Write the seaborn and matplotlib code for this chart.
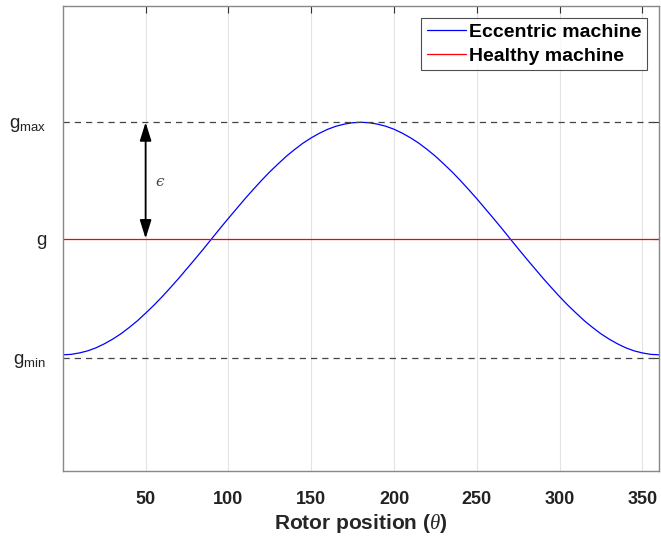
import numpy as np
import pandas as pd
import matplotlib
matplotlib.use('Agg')
import matplotlib.pyplot as plt
import seaborn as sns

# rotor position (deg) and air gap of the eccentric machine
theta = [0, 5, 10, 15, 20, 25, 30, 35, 40, 45, 50, 55, 60, 65, 70, 75, 80, 85, 90,
         95, 100, 105, 110, 115, 120, 125, 130, 135, 140, 145, 150, 155, 160, 165, 170, 175, 180,
         185, 190, 195, 200, 205, 210, 215, 220, 225, 230, 235, 240, 245, 250, 255, 260, 265, 270,
         275, 280, 285, 290, 295, 300, 305, 310, 315, 320, 325, 330, 335, 340, 345, 350, 355, 360]
gap_ecc = [0.500, 0.502, 0.508, 0.517, 0.530, 0.547, 0.567, 0.590, 0.617, 0.646, 0.679, 0.713,
           0.750, 0.789, 0.829, 0.871, 0.913, 0.956, 1.000, 1.044, 1.087, 1.129, 1.171, 1.211,
           1.250, 1.287, 1.321, 1.354, 1.383, 1.410, 1.433, 1.453, 1.470, 1.483, 1.492, 1.498,
           1.500, 1.498, 1.492, 1.483, 1.470, 1.453, 1.433, 1.410, 1.383, 1.354, 1.321, 1.287,
           1.250, 1.211, 1.171, 1.129, 1.087, 1.044, 1.000, 0.956, 0.913, 0.871, 0.829, 0.789,
           0.750, 0.713, 0.679, 0.646, 0.617, 0.590, 0.567, 0.547, 0.530, 0.517, 0.508, 0.502, 0.500]
g_healthy = 1.0
g_max = 1.5
g_min = 0.487

x_ticks = [50, 100, 150, 200, 250, 300, 350]
y_ticks = [g_min, g_healthy, g_max]
y_ticklabels = [r'$\mathregular{g_{min}}$', 'g', r'$\mathregular{g_{max}}$']

df = pd.DataFrame({'theta': theta, 'gap': gap_ecc})

sns.set_style('white')
plt.rcParams['font.family'] = ['Liberation Sans', 'DejaVu Sans']
plt.rcParams['mathtext.fontset'] = 'custom'
plt.rcParams['mathtext.rm'] = 'Liberation Sans'
plt.rcParams['mathtext.it'] = 'Liberation Serif:italic'
plt.rcParams['text.color'] = '#111111'
plt.rcParams['xtick.color'] = '#222222'
plt.rcParams['ytick.color'] = '#222222'

fig, ax = plt.subplots(figsize=(6.61, 5.44), dpi=100)
fig.subplots_adjust(left=0.095, right=0.997, top=0.989, bottom=0.134)

sns.lineplot(data=df, x='theta', y='gap', color='blue', lw=0.9, ax=ax, label='Eccentric machine')
ax.axhline(g_healthy, color='red', lw=0.9, label='Healthy machine')
ax.axhline(g_max, color='#444444', lw=0.9, ls=(0, (5, 4)))
ax.axhline(g_min, color='#444444', lw=0.9, ls=(0, (5, 4)))

ax.annotate('', xy=(50, g_max), xytext=(50, g_healthy),
            arrowprops=dict(arrowstyle='<|-|>,head_length=0.8,head_width=0.25', color='black',
                            lw=1.3, mutation_scale=14, shrinkA=0, shrinkB=0))
ax.text(56, 1.245, '\u03f5', fontsize=11, color='#444444', va='center',
        family='DejaVu Serif', style='italic')

ax.set_xlim(0, 360)
ax.set_ylim(0, 2)
ax.set_xticks(x_ticks)
ax.set_xticklabels([str(t) for t in x_ticks], fontsize=13, fontweight='bold')
ax.set_yticks(y_ticks)
ax.set_yticklabels(y_ticklabels, fontsize=13.5)
ax.xaxis.grid(True, color='#e3e3e3', lw=0.8)
ax.yaxis.grid(False)
ax.tick_params(direction='in', length=5, color='#333333', top=True, right=True)
ax.tick_params(axis='x', pad=14)
ax.tick_params(axis='y', pad=12)
for s in ax.spines.values():
    s.set_color('#888888')
    s.set_linewidth(1.0)

ax.set_xlabel(r'Rotor position ($\theta$)', fontsize=15, fontweight='bold', labelpad=3)
ax.set_ylabel('')

leg = ax.legend(loc='upper right', prop={'weight': 'bold', 'size': 14},
                frameon=True, fancybox=False, edgecolor='#222222', borderpad=0.3,
                handlelength=2.0, handletextpad=0.15, borderaxespad=0.6, labelspacing=0.3)
leg.get_frame().set_linewidth(0.8)
for t in leg.get_texts():
    t.set_color('black')

plt.savefig('out.png', dpi=100)
